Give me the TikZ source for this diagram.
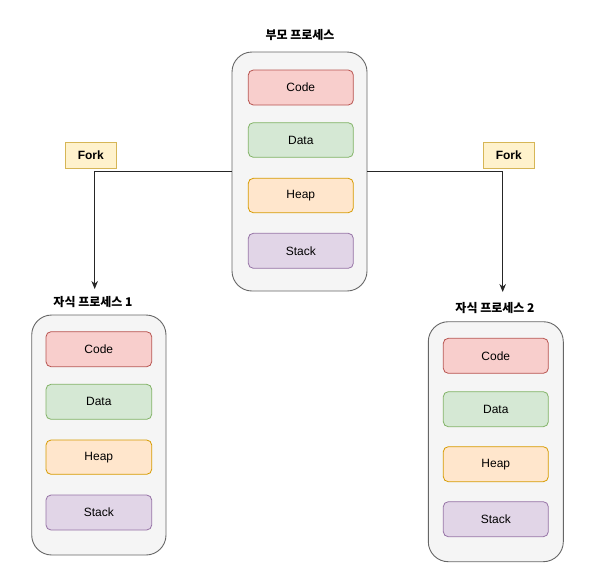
\documentclass[tikz,border=0pt]{standalone}
\usepackage{fontspec}
\setmainfont{Liberation Sans}
\newfontfamily\kr{Noto Sans CJK KR}
\usetikzlibrary{arrows.meta}
\definecolor{redF}{HTML}{F8CECC}\definecolor{redD}{HTML}{B85450}
\definecolor{grnF}{HTML}{D5E8D4}\definecolor{grnD}{HTML}{82B366}
\definecolor{orgF}{HTML}{FFE6CC}\definecolor{orgD}{HTML}{D79B00}
\definecolor{purF}{HTML}{E1D5E7}\definecolor{purD}{HTML}{9673A6}
\definecolor{conF}{HTML}{F5F5F5}\definecolor{conD}{HTML}{666666}
\definecolor{ylwF}{HTML}{FFF2CC}\definecolor{ylwD}{HTML}{D6B656}
\begin{document}
\begin{tikzpicture}[x=1pt,y=-1pt,
  font=\fontsize{12}{14}\selectfont,
  container/.style={draw=conD,fill=conF,rounded corners=20pt,line width=0.9pt},
  seg/.style={rounded corners=5pt,line width=0.8pt,font=\fontsize{12}{14}\selectfont,inner sep=0pt},
  codebox/.style={seg,draw=redD,fill=redF},
  databox/.style={seg,draw=grnD,fill=grnF},
  heapbox/.style={seg,draw=orgD,fill=orgF},
  stackbox/.style={seg,draw=purD,fill=purF},
  forkbox/.style={draw=ylwD,fill=ylwF,line width=0.8pt,font=\fontsize{12}{14}\selectfont\bfseries,minimum width=51pt,minimum height=26pt,inner sep=0pt},
  title/.style={font=\fontsize{12}{14}\selectfont\kr\bfseries,inner sep=1pt},
  conn/.style={draw=black!85,line width=0.9pt,-{Stealth[length=8pt,width=6.5pt]}}
]
\useasboundingbox (0,0) rectangle (601,584);

% parent
\node[title] (tp) at (300,35) {부모 프로세스};
\filldraw[container] (232,52) rectangle (367,291);
\node[container,minimum width=135pt,minimum height=239pt,draw=none,fill=none] (p) at (299.5,171.5) {};
\path[codebox]  (248.3,70) rectangle (353.3,105);   \node (pc) at (300.8,87.5) {Code};
\path[databox]  (248.3,122.7) rectangle (353.3,157.3); \node (pd) at (300.8,140) {Data};
\path[heapbox]  (248.3,178.3) rectangle (353.3,212.7); \node (ph) at (300.8,195.5) {Heap};
\path[stackbox] (248.3,233.3) rectangle (353.3,268.3); \node (ps) at (300.8,250.8) {Stack};

% child 1
\node[title] (t1) at (93,301.5) {자식 프로세스 1};
\filldraw[container] (31.7,315) rectangle (166,555);
\path[codebox]  (46,331.7) rectangle (151.7,366.7); \node (ac) at (98.8,349.2) {Code};
\path[databox]  (46,384.3) rectangle (151.7,419.3); \node (ad) at (98.8,401.8) {Data};
\path[heapbox]  (46,440) rectangle (151.7,474.3);   \node (ah) at (98.8,457.2) {Heap};
\path[stackbox] (46,495) rectangle (151.7,530);     \node (as) at (98.8,512.5) {Stack};

% child 2
\node[title] (t2) at (495,308) {자식 프로세스 2};
\filldraw[container] (428.3,321.7) rectangle (563.3,561.7);
\path[codebox]  (443.3,338.3) rectangle (548.3,373.3); \node (bc) at (495.8,355.8) {Code};
\path[databox]  (443.3,391.7) rectangle (548.3,426.7); \node (bd) at (495.8,409.2) {Data};
\path[heapbox]  (443.3,446.7) rectangle (548.3,481.7); \node (bh) at (495.8,464.2) {Heap};
\path[stackbox] (443.3,501.7) rectangle (548.3,536.7); \node (bs) at (495.8,519.2) {Stack};

% fork labels
\node[forkbox] (f1) at (90.8,155.3) {Fork};
\node[forkbox] (f2) at (508.8,155.3) {Fork};

% connectors
\coordinate (e1) at (94.7,289);
\coordinate (e2) at (502.7,292);
\draw[conn] (p.west) -| (e1);
\draw[conn] (p.east) -| (e2);
\end{tikzpicture}
\end{document}
